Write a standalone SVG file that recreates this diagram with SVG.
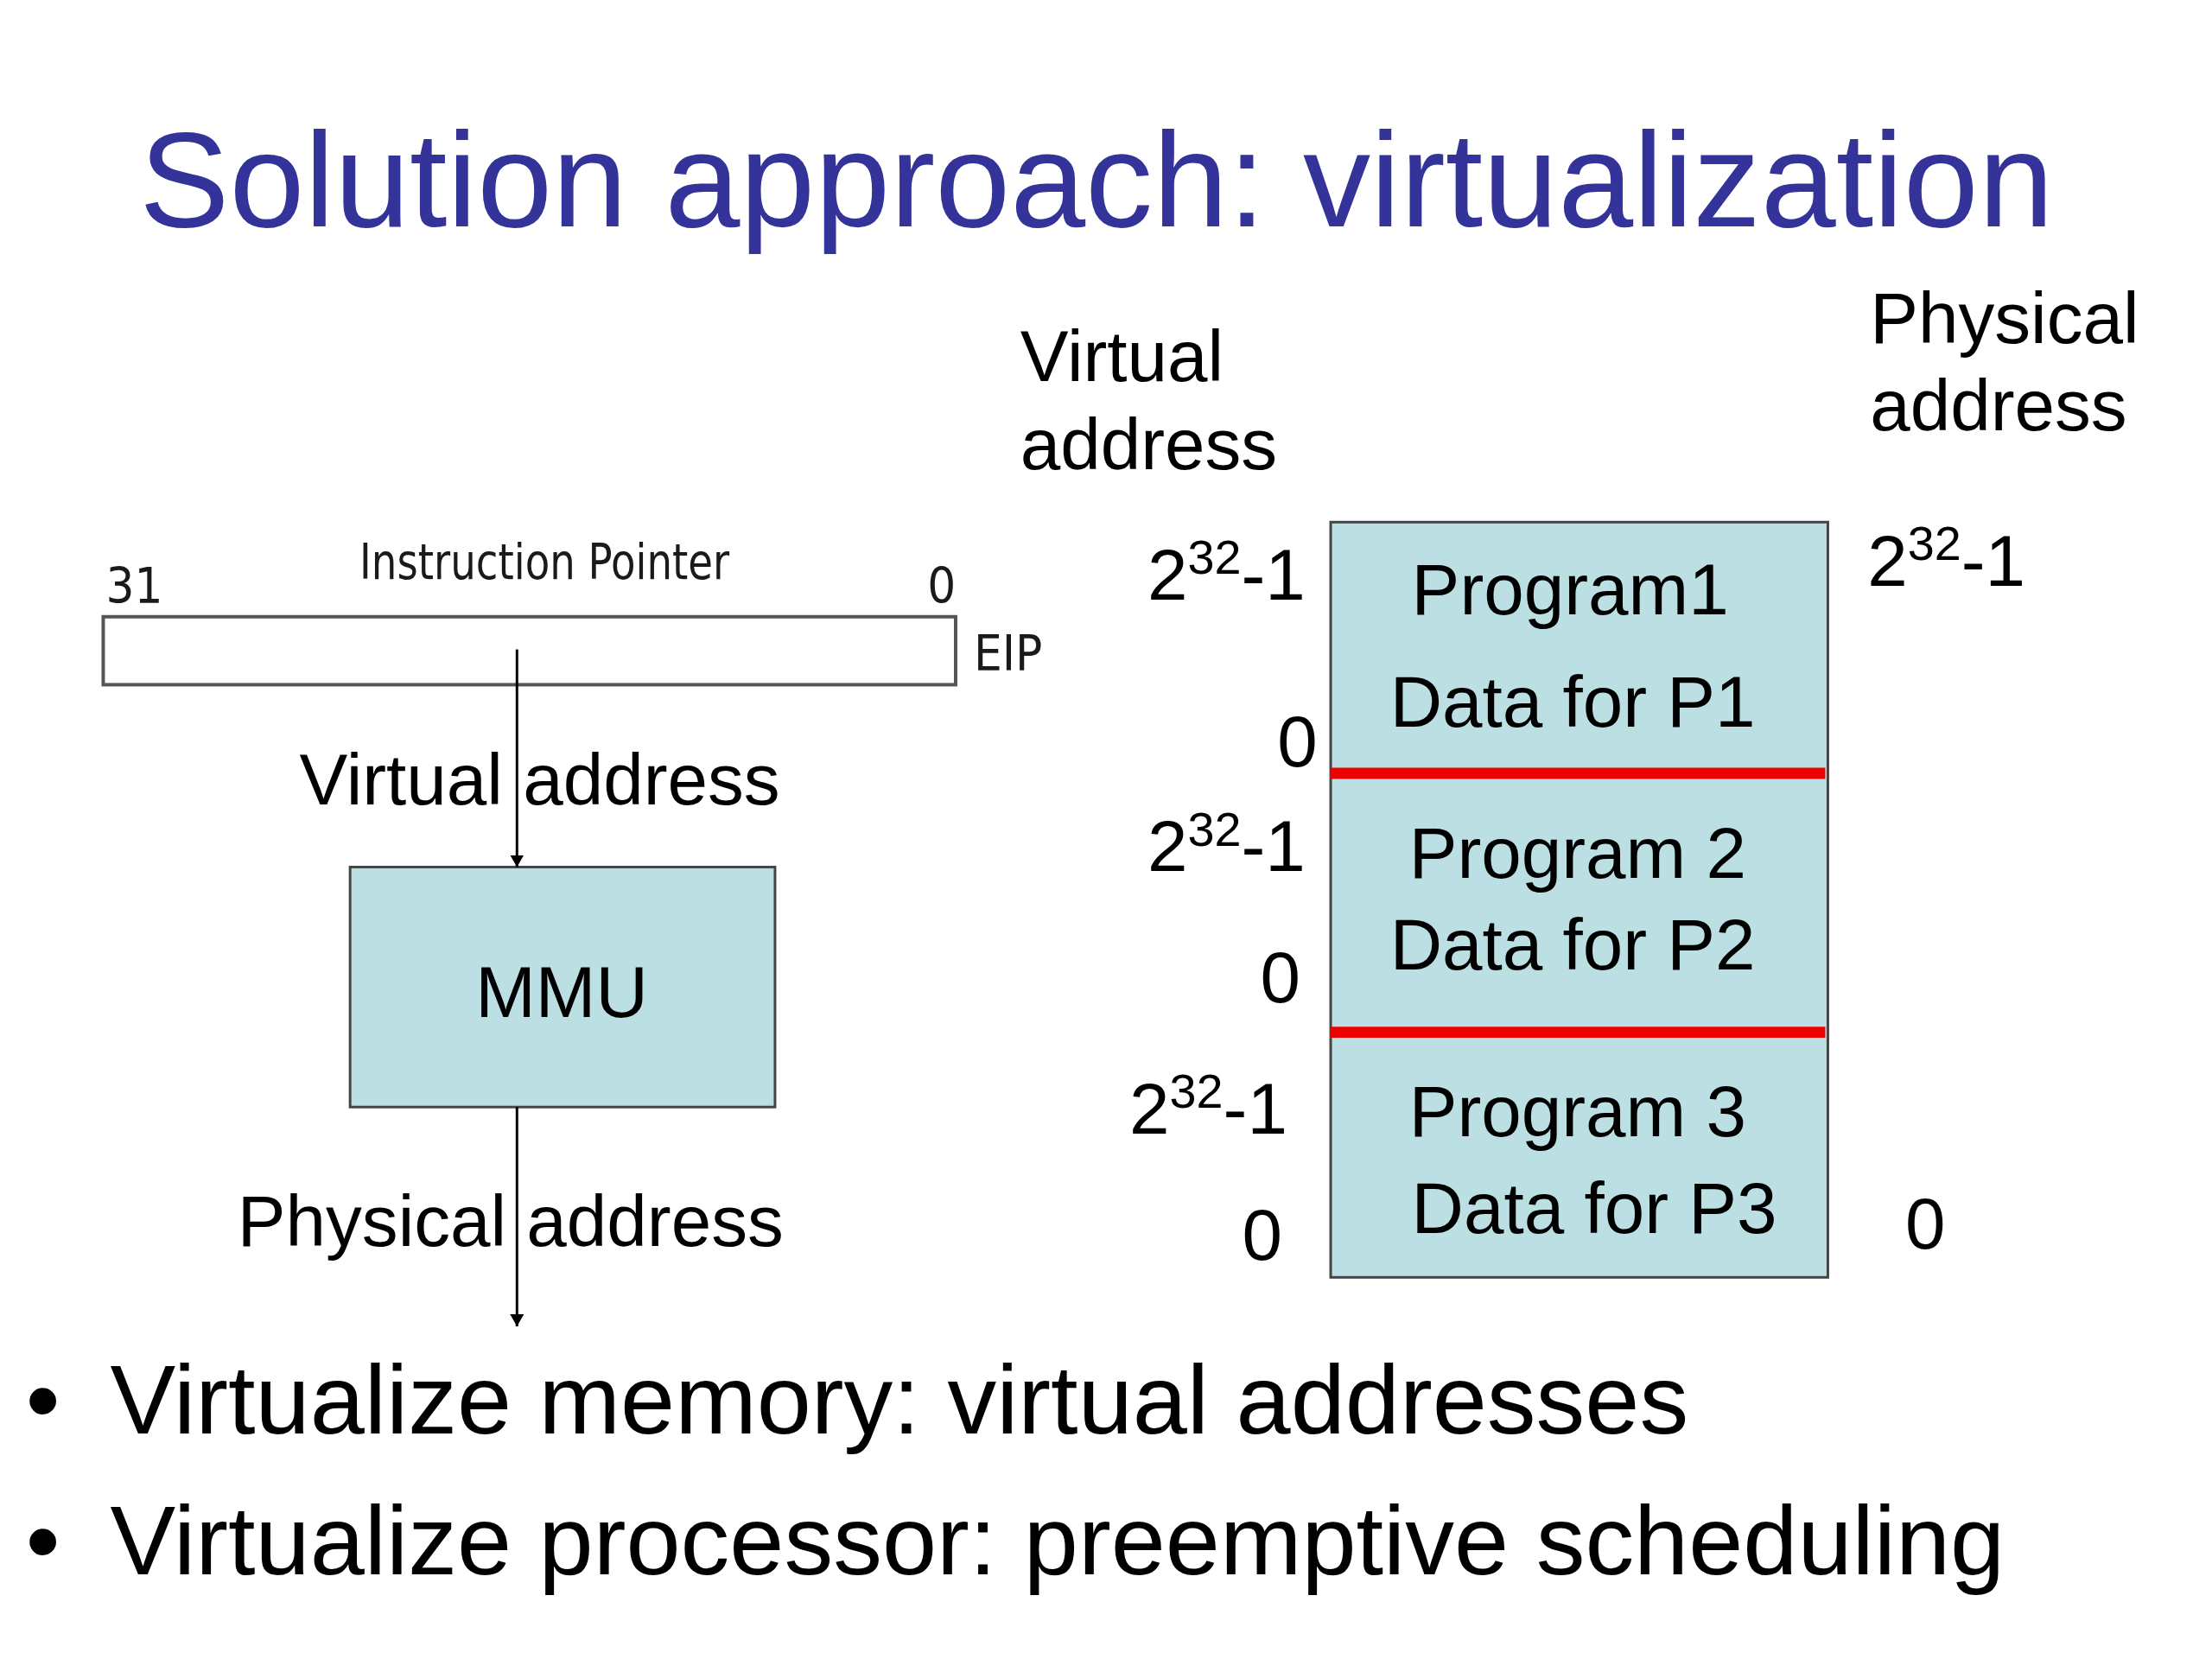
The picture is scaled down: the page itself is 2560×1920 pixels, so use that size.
<svg xmlns="http://www.w3.org/2000/svg" width="2560" height="1920" viewBox="0 0 2560 1920">
<defs>
<style>
text { font-family: "Liberation Sans", Arial, sans-serif; fill: #000; }
.lbl { font-size: 84px; }
.title { font-size: 157px; fill: #333399; }
.bullet { font-size: 114px; }
.reg { font-family: "DejaVu Sans Condensed", "DejaVu Sans", sans-serif; font-size: 58px; fill: #1a1a1a; }
.box { fill: #bbdfe3; stroke: #444; stroke-width: 3; }
.wire { stroke: #000; stroke-width: 3; fill: none; }
.sep { stroke: #ee0000; stroke-width: 13; }
.sup { font-size: 56px; }
</style>
<marker id="arr" markerWidth="14" markerHeight="16" refX="14" refY="8" orient="auto" markerUnits="userSpaceOnUse">
<path d="M0,0 L14,8 L0,16 Z" fill="#000"/>
</marker>
</defs>
<rect width="2560" height="1920" fill="#fff"/>
<g transform="scale(0.9955)">
<text class="title" x="162" y="263">Solution approach: virtualization</text>

<g id="headers">
<text class="lbl" x="1186" y="443">Virtual</text>
<text class="lbl" x="1186" y="545">address</text>
<text class="lbl" x="2174" y="399">Physical</text>
<text class="lbl" x="2174" y="500">address</text>
</g>

<g id="eip">
<rect x="120" y="717" width="991" height="79" fill="#fff" stroke="#555" stroke-width="4"/>
<text class="reg" x="123" y="701">31</text>
<text class="reg" x="418" y="673" textLength="430" lengthAdjust="spacingAndGlyphs">Instruction Pointer</text>
<text class="reg" x="1078" y="701">0</text>
<text class="reg" x="1132" y="780">EIP</text>
</g>

<g id="mmu">
<rect class="box" x="407" y="1008" width="494" height="279"/>
<text class="lbl" x="653" y="1182" text-anchor="middle">MMU</text>
</g>

<g id="connectors">
<line class="wire" x1="601" y1="755" x2="601" y2="1008" marker-end="url(#arr)"/>
<line class="wire" x1="601" y1="1287" x2="601" y2="1542" marker-end="url(#arr)"/>
</g>

<g id="conn-labels">
<text class="lbl" x="348" y="935">Virtual address</text>
<text class="lbl" x="276" y="1449">Physical address</text>
</g>

<g id="memory">
<rect class="box" x="1547" y="607" width="578" height="878"/>
<line class="sep" x1="1547" y1="899" x2="2122" y2="899"/>
<line class="sep" x1="1547" y1="1200" x2="2122" y2="1200"/>
<text class="lbl" x="1641" y="714">Program1</text>
<text class="lbl" x="1616" y="845">Data for P1</text>
<text class="lbl" x="1638" y="1021">Program 2</text>
<text class="lbl" x="1616" y="1127">Data for P2</text>
<text class="lbl" x="1638" y="1321">Program 3</text>
<text class="lbl" x="1641" y="1433">Data for P3</text>
</g>

<g id="addr-labels">
<text class="lbl" x="1334" y="697">2<tspan class="sup" dy="-30">32</tspan><tspan dy="30">-1</tspan></text>
<text class="lbl" x="1485" y="891">0</text>
<text class="lbl" x="1334" y="1013">2<tspan class="sup" dy="-30">32</tspan><tspan dy="30">-1</tspan></text>
<text class="lbl" x="1465" y="1165">0</text>
<text class="lbl" x="1313" y="1318">2<tspan class="sup" dy="-30">32</tspan><tspan dy="30">-1</tspan></text>
<text class="lbl" x="1444" y="1465">0</text>
<text class="lbl" x="2171" y="681">2<tspan class="sup" dy="-30">32</tspan><tspan dy="30">-1</tspan></text>
<text class="lbl" x="2215" y="1452">0</text>
</g>

<g id="bullets">
<text class="bullet" x="30" y="1666">•</text>
<text class="bullet" x="128" y="1666">Virtualize memory: virtual addresses</text>
<text class="bullet" x="30" y="1830">•</text>
<text class="bullet" x="128" y="1830">Virtualize processor: preemptive scheduling</text>
</g>
</g>
</svg>
